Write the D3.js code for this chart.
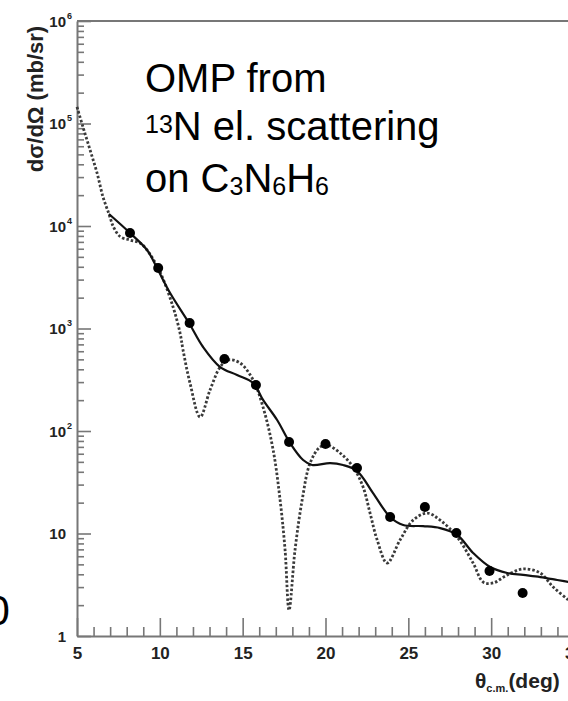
<!DOCTYPE html>
<html>
<head>
    <meta charset="UTF-8">
    <title>13N elastic scattering</title>
    <script src="https://d3js.org/d3.v7.min.js"></script>
    <style>
        body { margin: 0; background: #fff; }
        svg text { font-family: "Liberation Sans", Arial, Helvetica, sans-serif; }
        .axis path, .axis line { stroke: #777; }
    </style>
</head>
<body>
<svg id="chart"></svg>
<script>
    // measured data points (theta c.m. in deg, dsigma/dOmega in mb/sr)
    var dataTheta = [8.2, 9.9, 11.8, 13.9, 15.8, 17.8, 20.0, 21.9, 23.9, 26.0, 27.9, 29.9, 31.9];
    var dataXsec = [8550, 3890, 1130, 504, 281, 78, 74.7, 43.5, 14.5, 18.1, 10.1, 4.31, 2.63];

    // OMP fit, solid curve
    var solidTheta = [6.93, 8.2, 9.23, 9.83, 10.62, 11.76, 12.61, 13.64, 14.66, 15.63, 16.23, 17.08, 17.86,
        18.65, 19.19, 20.28, 21.06, 21.91, 22.87, 23.9, 24.69, 25.89, 26.92, 27.95, 28.91, 29.94, 30.97,
        31.93, 32.96, 33.99, 35.0];
    var solidXsec = [13100, 8550, 5830, 3890, 2220, 1132, 660, 421, 352, 294, 201, 128, 76.4,
        52.1, 46.6, 48.7, 46.6, 40.7, 24.8, 14.5, 12.1, 11.8, 11.3, 9.67, 6.46, 4.71, 4.12,
        3.94, 3.76, 3.52, 3.29];

    // dotted curve
    var dotTheta = [5.0, 5.36, 5.79, 6.21, 6.57, 6.93, 7.2, 7.6, 8.2, 8.8, 9.23, 10.01, 10.8, 11.22, 11.4,
        11.82, 12.43, 13.03, 13.64, 14.12, 14.84, 15.63, 16.23, 16.84, 17.26, 17.56, 17.8, 18.16, 18.59,
        19.07, 19.67, 20.1, 20.88, 21.67, 22.27, 22.69, 23.12, 23.72, 24.5, 25.29, 26.14, 26.92, 27.95,
        28.91, 29.52, 30.12, 30.97, 31.93, 32.96, 33.74, 34.65, 35.0];
    var dotXsec = [145000, 92500, 55100, 32900, 19200, 13100, 9800, 7900, 7290, 6820, 5830, 3560, 1620, 904, 617,
        294, 137, 251, 421, 493, 461, 315, 171, 65.3, 21.2, 6.9, 1.79, 6.9, 21.2,
        48.7, 69.8, 73.0, 61.0, 44.5, 28.4, 15.8, 8.64, 5.15, 8.64, 13.5, 15.8, 13.5, 9.25,
        5.15, 3.36, 3.29, 3.94, 4.51, 4.12, 3.01, 2.25, 2.01];

    var xMajor = [5, 10, 15, 20, 25, 30, 35];
    var yMajor = [1, 10, 100, 1e3, 1e4, 1e5, 1e6];
    var yLabelExp = ["", "", "2", "3", "4", "5", "6"];

    var W = 568, H = 701;
    var svg = d3.select("#chart").attr("width", W).attr("height", H);

    var x = d3.scaleLinear().domain([5, 35]).range([77, 574]);
    var y = d3.scaleLog().domain([1, 1e6]).range([636, 21]);

    var xMinor = d3.range(5, 36).filter(function (v) { return v % 5 !== 0; });
    var yMinor = [];
    for (var e = 0; e < 6; e++) {
        for (var k = 2; k < 10; k++) yMinor.push(k * Math.pow(10, e));
    }

    // frame top + right
    svg.append("path")
        .attr("d", "M" + x(5) + "," + y(1e6) + "H" + x(35) + "V" + y(1))
        .attr("fill", "none").attr("stroke", "#777").attr("stroke-width", 2);

    // x axis
    svg.append("g").attr("class", "axis")
        .attr("transform", "translate(0," + y(1) + ")")
        .call(d3.axisBottom(x).tickValues(xMinor).tickSize(-9).tickSizeOuter(0).tickFormat(""))
        .call(function (g) { g.select(".domain").remove(); g.selectAll("line").attr("stroke-width", 1.6); });

    var gx = svg.append("g").attr("class", "axis")
        .attr("transform", "translate(0," + y(1) + ")")
        .call(d3.axisBottom(x).tickValues(xMajor).tickSize(-18).tickSizeOuter(0).tickPadding(11));
    gx.select(".domain").attr("stroke-width", 2);
    gx.selectAll("line").attr("stroke-width", 1.6);
    gx.selectAll("text").attr("fill", "#222").attr("font-size", 17).attr("font-weight", "bold");

    // y axis
    svg.append("g").attr("class", "axis")
        .attr("transform", "translate(" + x(5) + ",0)")
        .call(d3.axisLeft(y).tickValues(yMinor).tickSize(-7).tickSizeOuter(0).tickFormat(""))
        .call(function (g) { g.select(".domain").remove(); g.selectAll("line").attr("stroke-width", 1.6); });

    var gy = svg.append("g").attr("class", "axis")
        .attr("transform", "translate(" + x(5) + ",0)")
        .call(d3.axisLeft(y).tickValues(yMajor).tickSize(-14).tickSizeOuter(0).tickFormat(function (d) {
            return d === 1 ? "1" : "10";
        }));
    gy.select(".domain").attr("stroke-width", 2);
    gy.selectAll("line").attr("stroke-width", 1.6);
    gy.selectAll(".tick text")
        .attr("x", -11).attr("dy", "0.36em")
        .attr("fill", "#222").attr("font-size", 15).attr("font-weight", "bold");
    gy.selectAll(".tick").each(function (d, i) {
        var sup = yLabelExp[yMajor.indexOf(d)];
        if (sup) {
            d3.select(this).append("text")
                .attr("x", -10).attr("y", -3)
                .attr("text-anchor", "start")
                .attr("fill", "#222").attr("font-size", 9).attr("font-weight", "bold")
                .text(sup);
        }
    });

    // axis titles
    svg.append("text")
        .attr("transform", "translate(43,99) rotate(-90)")
        .attr("text-anchor", "middle")
        .attr("font-size", 22).attr("font-weight", "bold").attr("fill", "#222")
        .text("dσ/dΩ (mb/sr)");

    var xt = svg.append("text").attr("x", 475).attr("y", 688)
        .attr("font-size", 21).attr("font-weight", "bold").attr("fill", "#222");
    xt.append("tspan").text("θ");
    xt.append("tspan").attr("font-size", 11).attr("dy", 4).text("c.m.");
    xt.append("tspan").attr("dy", -4).text("(deg)");

    // curves
    var line = d3.line()
        .x(function (d) { return x(d[0]); })
        .y(function (d) { return y(d[1]); })
        .curve(d3.curveCatmullRom.alpha(0.5));

    svg.append("path")
        .datum(d3.zip(dotTheta, dotXsec))
        .attr("d", line)
        .attr("fill", "none").attr("stroke", "#3a3a3a")
        .attr("stroke-width", 2.8).attr("stroke-dasharray", "2.5,2");

    svg.append("path")
        .datum(d3.zip(solidTheta, solidXsec))
        .attr("d", line)
        .attr("fill", "none").attr("stroke", "#111").attr("stroke-width", 2.2);

    svg.selectAll("circle.pt")
        .data(d3.zip(dataTheta, dataXsec))
        .enter().append("circle")
        .attr("class", "pt")
        .attr("cx", function (d) { return x(d[0]); })
        .attr("cy", function (d) { return y(d[1]); })
        .attr("r", 5).attr("fill", "#000");

    // annotation
    var ann = svg.append("text").attr("font-size", 40).attr("fill", "#000");
    ann.append("tspan").attr("x", 145).attr("y", 92).text("OMP from");
    var l2 = svg.append("text").attr("x", 145).attr("y", 140).attr("font-size", 40).attr("fill", "#000");
    l2.append("tspan").attr("font-size", 25).attr("dy", -7).text("13");
    l2.append("tspan").attr("dy", 7).text("N el. scattering");
    var l3 = svg.append("text").attr("x", 145).attr("y", 192).attr("font-size", 40).attr("fill", "#000");
    l3.append("tspan").text("on C");
    l3.append("tspan").attr("font-size", 25).attr("dy", 3).text("3");
    l3.append("tspan").attr("dy", -3).text("N");
    l3.append("tspan").attr("font-size", 25).attr("dy", 3).text("6");
    l3.append("tspan").attr("dy", -3).text("H");
    l3.append("tspan").attr("font-size", 25).attr("dy", 3).text("6");

    // cut-off character at left edge
    svg.append("text").attr("x", -13.5).attr("y", 625)
        .attr("font-size", 42).attr("fill", "#000").text("0");
</script>
</body>
</html>
